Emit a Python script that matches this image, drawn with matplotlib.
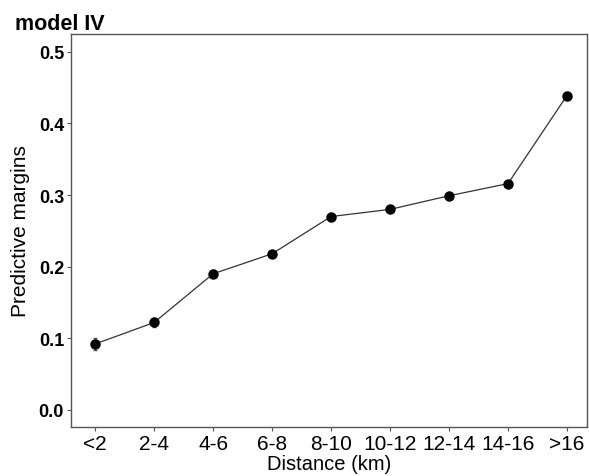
import matplotlib
matplotlib.use("Agg")
import matplotlib.pyplot as plt

plt.rcParams['font.family'] = ['Liberation Sans', 'DejaVu Sans']

categories = ["<2", "2-4", "4-6", "6-8", "8-10", "10-12", "12-14", "14-16", ">16"]
margins = [0.092, 0.122, 0.190, 0.218, 0.270, 0.280, 0.299, 0.316, 0.439]
errors = [0.009, 0.006, 0.005, 0.003, 0.003, 0.003, 0.003, 0.004, 0.005]
yticks = [0.0, 0.1, 0.2, 0.3, 0.4, 0.5]

fig = plt.figure(figsize=(5.89, 4.77), dpi=100)
ax = fig.add_axes([71/589, 1-428/477, (587-71)/589, (428-35)/477])

x = list(range(len(categories)))
ax.plot(x, margins, color="#333333", lw=0.9, zorder=2)
ax.errorbar(x, margins, yerr=errors, fmt="o", color="black", ms=6.5,
            ecolor="#555555", elinewidth=1.0, capsize=1.5, zorder=3)

ax.set_xlim(-0.41, 8.34)
ax.set_ylim(-0.024, 0.525)
ax.set_xticks(x)
ax.set_xticklabels(categories, fontsize=15)
ax.set_yticks(yticks)
ax.set_yticklabels([f"{v:.1f}" for v in yticks], fontsize=13, fontweight="bold")
ax.tick_params(length=3, color="#555555", pad=2)
for s in ax.spines.values():
    s.set_color("#555555")
    s.set_linewidth(1.0)
ax.set_xlabel("Distance (km)", fontsize=14.5, labelpad=1)
ax.set_ylabel("Predictive margins", fontsize=15, labelpad=6)
fig.text(15/589, 1-30/477, "model IV", fontsize=15.5, fontweight="bold", va="baseline", ha="left")

fig.savefig("out.png", dpi=100)
